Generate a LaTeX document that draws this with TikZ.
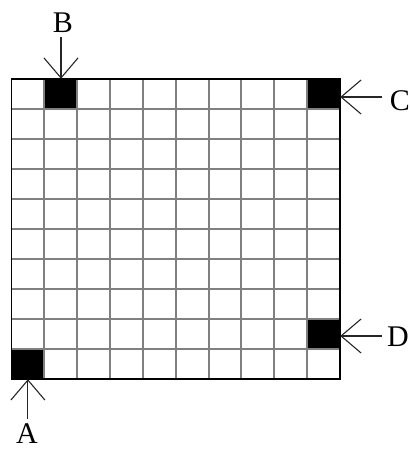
\documentclass[tikz,border=0pt]{standalone}
\usepackage{fontspec}
\setmainfont{Liberation Serif}
\usetikzlibrary{arrows.meta}
\begin{document}
\begin{tikzpicture}[x=1pt,y=-1pt,
  blackcell/.style={fill=black, inner sep=0pt, minimum width=32.85pt, minimum height=30pt},
  gridline/.style={draw=black!50, line width=2pt},
  frame/.style={draw=black, line width=1.5pt},
  arr/.style={draw=black!85, line width=1.1pt, -{Straight Barb[length=20pt,width=34pt]}},
  lbl/.style={inner sep=0pt, font=\fontsize{30}{34}\selectfont}]
\useasboundingbox (0,0) rectangle (411,450);
% black cells
\node[blackcell] (cB) at (59.8,94) {};
\node[blackcell] (cC) at (323.6,94) {};
\node[blackcell] (cD) at (323.6,334) {};
\node[blackcell] (cA) at (27.9,364) {};
% grid lines
\foreach \i in {1,...,9} {
  \draw[gridline] ({11.5+\i*32.85},79) -- ++(0,300);
  \draw[gridline] (11.5,{79+\i*30}) -- ++(328.5,0);
}
\draw[frame] (11.5,79) rectangle (340,379);
% labels
\node[lbl] (B) at (63,22.5) {B};
\node[lbl] (C) at (400,101) {C};
\node[lbl] (D) at (398,337) {D};
\node[lbl] (A) at (27,434) {A};
% arrows
\coordinate (tB) at (61,37);
\coordinate (tC) at (382,97);
\coordinate (tD) at (382,336);
\coordinate (tA) at (27.9,419);
\draw[arr] (tB) -- (tB |- cB.north);
\draw[arr] (tC) -- (tC -| cC.east);
\draw[arr] (tD) -- (tD -| cD.east);
\draw[arr] (tA) -- (cA.south);
\end{tikzpicture}
\end{document}
